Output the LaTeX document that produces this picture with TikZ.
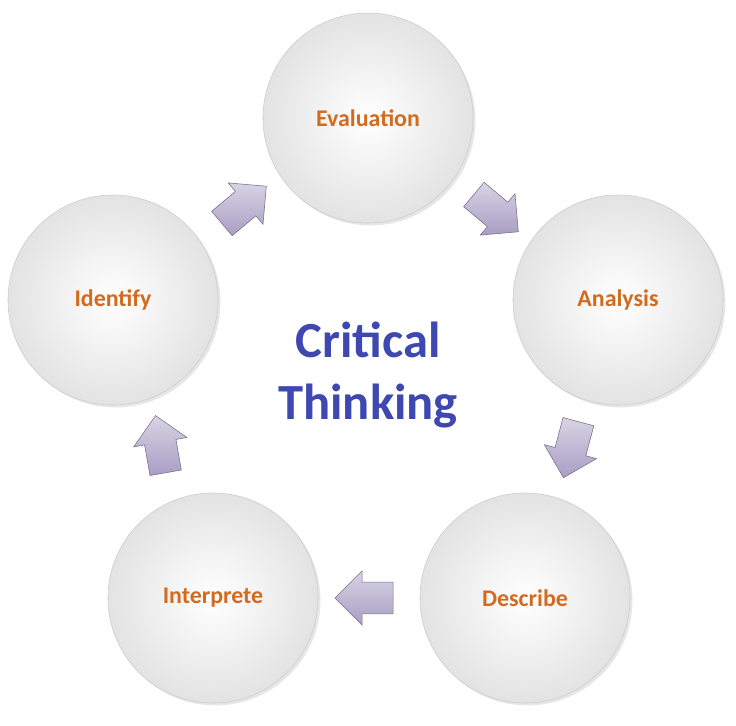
\documentclass[tikz,border=0pt]{standalone}
\usepackage{fontspec}
\setmainfont{Carlito}
\usetikzlibrary{shapes.arrows,shadows}
\definecolor{labelorange}{HTML}{D46A1E}
\definecolor{titleblue}{HTML}{3F48B0}
\definecolor{arrowlav}{HTML}{A89EC4}
\tikzset{
    ball/.style={circle, minimum size=5.25cm, draw=gray!40, thin,
        shading=radial, inner color=white, outer color=gray!22,
        drop shadow={opacity=.2, shadow xshift=.06cm, shadow yshift=-.06cm},
        font=\bfseries\fontsize{17}{20}\selectfont, text=labelorange},
    blockarrow/.style={single arrow, draw=arrowlav!70!black, thin,
        top color=arrowlav!45, bottom color=arrowlav,
        minimum height=1.45cm, minimum width=1.35cm,
        single arrow head extend=.2cm, inner xsep=0pt, inner ysep=.28cm}
}
\begin{document}
\begin{tikzpicture}[x=0.025cm, y=-0.025cm]
	\useasboundingbox (0,0) rectangle (736,725);
	\node (eval) [ball] at (368, 118) {Evaluation};
	\node (anal) [ball] at (618, 300) {Analysis};
	\node (desc) [ball] at (525, 598) {Describe};
	\node (intp) [ball] at (213, 598) {Interprete};
	\node (iden) [ball] at (113, 300) {Identify};

	\node (title) [font=\bfseries\fontsize{36}{44}\selectfont, text=titleblue,
		align=center] at (368, 375) {Critical\\Thinking};

	\node (a1) [blockarrow, rotate=40] at (238, 210) {};
	\node (a2) [blockarrow, rotate=-40] at (490, 208) {};
	\node (a3) [blockarrow, rotate=-105] at (573, 442) {};
	\node (a4) [blockarrow, rotate=180] at (372, 598) {};
	\node (a5) [blockarrow, rotate=100] at (162, 452) {};
\end{tikzpicture}
\end{document}
